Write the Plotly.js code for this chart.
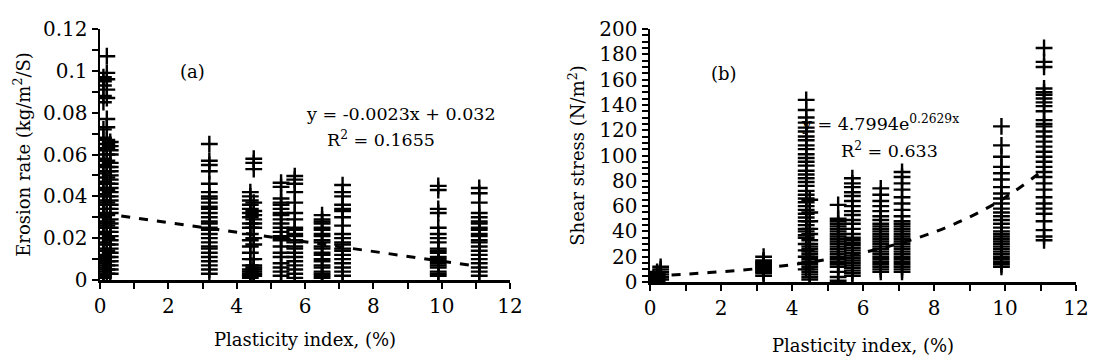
<!DOCTYPE html>
<html>
<head>
<meta charset="utf-8">
<script src="https://cdn.plot.ly/plotly-3.0.1.min.js"></script>
<style>html,body{margin:0;padding:0;background:#fff;}#chart{width:1096px;height:359px;}</style>
</head>
<body>
<div id="chart"></div>
<script>
// ---------- Panel (a): erosion rate vs plasticity index ----------
const erPI = [0.1, 0.2, 0.3, 3.2, 4.4, 4.5, 5.3, 5.7, 6.5, 7.1, 9.9, 11.1];
const er_01 = [0.097, 0.095, 0.093, 0.088, 0.085, 0.072, 0.068, 0.062, 0.058, 0.055, 0.051, 0.047, 0.044, 0.041, 0.038, 0.036, 0.032, 0.030, 0.027, 0.025, 0.022, 0.020, 0.018, 0.015, 0.012, 0.010, 0.008, 0.006, 0.004, 0.002, 0.001];
const er_02 = [0.107, 0.099, 0.096, 0.091, 0.087, 0.077, 0.073, 0.067, 0.065, 0.063, 0.060, 0.057, 0.054, 0.052, 0.049, 0.046, 0.043, 0.040, 0.037, 0.034, 0.031, 0.028, 0.026, 0.023, 0.020, 0.017, 0.014, 0.011, 0.009, 0.007, 0.005, 0.003];
const er_03 = [0.066, 0.064, 0.062, 0.060, 0.056, 0.054, 0.052, 0.050, 0.048, 0.046, 0.044, 0.042, 0.040, 0.038, 0.036, 0.034, 0.032, 0.029, 0.027, 0.025, 0.023, 0.021, 0.019, 0.017, 0.015, 0.013, 0.011, 0.009, 0.007, 0.005, 0.003];
const er_32 = [0.065, 0.057, 0.055, 0.052, 0.046, 0.042, 0.040, 0.039, 0.037, 0.035, 0.034, 0.032, 0.030, 0.028, 0.027, 0.025, 0.024, 0.022, 0.020, 0.018, 0.016, 0.015, 0.013, 0.011, 0.009, 0.007, 0.005, 0.003];
const er_44 = [0.042, 0.040, 0.038, 0.036, 0.034, 0.032, 0.030, 0.027, 0.025, 0.022, 0.019, 0.016, 0.013, 0.010, 0.007, 0.005, 0.004, 0.003, 0.002, 0.001];
const er_45 = [0.058, 0.056, 0.053, 0.037, 0.033, 0.031, 0.029, 0.027, 0.025, 0.020, 0.017, 0.010, 0.007, 0.006, 0.005, 0.004, 0.003, 0.002];
const er_53 = [0.0465, 0.0445, 0.039, 0.037, 0.036, 0.034, 0.032, 0.031, 0.029, 0.027, 0.025, 0.023, 0.021, 0.020, 0.019, 0.016, 0.013, 0.011, 0.008, 0.006, 0.004, 0.002];
const er_57 = [0.0497, 0.048, 0.046, 0.042, 0.037, 0.032, 0.029, 0.025, 0.024, 0.022, 0.021, 0.019, 0.018, 0.016, 0.015, 0.013, 0.011, 0.009, 0.007, 0.005, 0.003, 0.001];
const er_65 = [0.031, 0.029, 0.028, 0.027, 0.025, 0.024, 0.022, 0.021, 0.019, 0.018, 0.016, 0.015, 0.013, 0.012, 0.010, 0.009, 0.007, 0.006, 0.004, 0.003, 0.002, 0.001];
const er_71 = [0.0454, 0.042, 0.040, 0.036, 0.034, 0.033, 0.030, 0.026, 0.022, 0.020, 0.018, 0.017, 0.015, 0.014, 0.012, 0.010, 0.008, 0.006, 0.004, 0.002];
const er_99 = [0.045, 0.043, 0.034, 0.032, 0.025, 0.022, 0.020, 0.018, 0.015, 0.014, 0.013, 0.011, 0.010, 0.009, 0.008, 0.007, 0.006, 0.004, 0.003, 0.002];
const er_111 = [0.044, 0.0415, 0.037, 0.032, 0.030, 0.028, 0.027, 0.025, 0.024, 0.022, 0.021, 0.019, 0.018, 0.016, 0.014, 0.012, 0.010, 0.008, 0.006, 0.004, 0.002];
const trendA_x = [0.1, 11.1];
const trendA_y = [0.0318, 0.0065];

// ---------- Panel (b): shear stress vs plasticity index ----------
const ssPI = [0.1, 0.2, 0.3, 3.2, 4.4, 4.5, 5.3, 5.7, 6.5, 7.1, 9.9, 11.1];
const ss_01 = [0.5, 1, 2, 3];
const ss_02 = [1, 2, 3, 4, 5, 6, 7, 8];
const ss_03 = [2, 4, 6, 8, 10, 12];
const ss_32 = [20, 17, 16, 15, 14, 13, 12, 11, 10, 9, 8, 7, 5];
const ss_44 = [144, 136, 130, 126, 122, 119, 115, 112, 108, 105, 101, 98, 95, 92, 88, 85, 82, 79, 76, 72, 69, 66, 63, 60, 57, 54, 51, 48, 45, 42, 40, 37, 35, 30, 25, 20, 15, 10];
const ss_45 = [65, 55, 48, 42, 38, 33, 30, 28, 26, 24, 22, 20, 18, 16, 14, 12, 10, 8, 6, 4, 2];
const ss_53 = [61, 50, 48, 46, 44, 42, 40, 38, 36, 34, 32, 30, 28, 26, 24, 22, 20, 18, 16, 14, 12, 8, 4, 1];
const ss_57 = [82, 78, 75, 71, 68, 64, 60, 56, 53, 49, 46, 42, 38, 35, 33, 31, 29, 27, 25, 23, 21, 19, 17, 15, 13, 11, 9, 7, 5];
const ss_65 = [74, 69, 64, 60, 56, 52, 49, 46, 44, 42, 40, 38, 36, 34, 32, 30, 28, 26, 24, 22, 20, 18, 16, 14, 12, 10, 8];
const ss_71 = [87, 83, 78, 73, 67, 62, 57, 52, 48, 46, 44, 42, 40, 38, 36, 34, 32, 30, 28, 26, 24, 22, 20, 18, 16, 14, 12, 10, 8];
const ss_99 = [123, 108, 99, 91, 86, 81, 75, 70, 66, 62, 58, 55, 52, 49, 46, 43, 40, 38, 36, 34, 32, 30, 28, 26, 24, 22, 20, 18, 16, 14, 12];
const ss_111 = [185, 174, 170, 153, 150, 148, 145, 142, 139, 135, 128, 125, 123, 119, 115, 111, 107, 103, 99, 95, 91, 87, 83, 78, 73, 67, 62, 58, 54, 48, 41, 36, 33];
const trendB_x = [0.1, 1, 2, 3, 4, 5, 6, 7, 8, 9, 10, 11.1];
const trendB_y = [5.0, 6.2, 8.1, 10.5, 13.7, 17.9, 23.2, 30.3, 39.4, 51.3, 66.7, 88.8];

// ---------- Labels ----------
const xTitle = 'Plasticity index, (%)';
const yTitleA = 'Erosion rate (kg/m<sup>2</sup>/S)';
const yTitleB = 'Shear stress (N/m<sup>2</sup>)';
const eqA = ['y = -0.0023x + 0.032', 'R<sup>2</sup> = 0.1655'];
const eqB = ['y = 4.7994e<sup>0.2629x</sup>', 'R<sup>2</sup> = 0.633'];

function flatten(piList, cols) {
  const xs = [], ys = [];
  cols.forEach((c, i) => c.forEach(v => { xs.push(piList[i]); ys.push(v); }));
  return {xs, ys};
}
const A = flatten(erPI, [er_01, er_02, er_03, er_32, er_44, er_45, er_53, er_57, er_65, er_71, er_99, er_111]);
const B = flatten(ssPI, [ss_01, ss_02, ss_03, ss_32, ss_44, ss_45, ss_53, ss_57, ss_65, ss_71, ss_99, ss_111]);

const FONT = '"DejaVu Serif", "Liberation Serif", serif';
const marker = {symbol: 'cross-thin', size: 12, color: '#000', line: {color: '#000', width: 2.4}};

const traces = [
  {x: A.xs, y: A.ys, type: 'scatter', mode: 'markers', marker: marker, xaxis: 'x', yaxis: 'y', showlegend: false, hoverinfo: 'x+y'},
  {x: trendA_x, y: trendA_y, type: 'scatter', mode: 'lines', line: {color: '#000', width: 3, dash: 'dash'}, xaxis: 'x', yaxis: 'y', showlegend: false},
  {x: B.xs, y: B.ys, type: 'scatter', mode: 'markers', marker: marker, xaxis: 'x2', yaxis: 'y2', showlegend: false, hoverinfo: 'x+y'},
  {x: trendB_x, y: trendB_y, type: 'scatter', mode: 'lines', line: {color: '#000', width: 3, dash: 'dash', shape: 'spline'}, xaxis: 'x2', yaxis: 'y2', showlegend: false}
];

const W = 1096, H = 359;
const TICK = 20, TITLE = 18, EQ = 17.5;
const axisCommon = {
  showline: true, linecolor: '#000', linewidth: 2.5, mirror: false,
  showgrid: false, zeroline: false,
  ticks: 'outside', ticklen: 6, tickwidth: 2, tickcolor: '#000',
  tickfont: {family: FONT, size: TICK, color: '#000'}
};
const minorTicks = (d) => ({dtick: d, ticks: 'outside', ticklen: 6, tickwidth: 2, tickcolor: '#000'});

const layout = {
  width: W, height: H,
  margin: {l: 0, r: 0, t: 0, b: 0},
  paper_bgcolor: '#fff', plot_bgcolor: '#fff',
  font: {family: FONT, color: '#000'},
  showlegend: false,
  xaxis: Object.assign({}, axisCommon, {
    domain: [100 / W, 510 / W], range: [0, 12], dtick: 2, tick0: 0,
    minor: minorTicks(1), anchor: 'y',
    title: {text: xTitle, font: {family: FONT, size: TITLE, color: '#000'}, standoff: 17}
  }),
  yaxis: Object.assign({}, axisCommon, {
    domain: [1 - 280 / H, 1 - 29 / H], range: [0, 0.12], dtick: 0.02, tick0: 0,
    minor: minorTicks(0.01), anchor: 'x',
    title: {text: yTitleA, font: {family: FONT, size: TITLE, color: '#000'}, standoff: 8}
  }),
  xaxis2: Object.assign({}, axisCommon, {
    domain: [650 / W, 1076 / W], range: [0, 12], dtick: 2, tick0: 0,
    minor: minorTicks(1), anchor: 'y2',
    title: {text: xTitle, font: {family: FONT, size: TITLE, color: '#000'}, standoff: 21}
  }),
  yaxis2: Object.assign({}, axisCommon, {
    domain: [1 - 282 / H, 1 - 29 / H], range: [0, 200], dtick: 20, tick0: 0,
    minor: minorTicks(5), anchor: 'x2',
    title: {text: yTitleB, font: {family: FONT, size: TITLE, color: '#000'}, standoff: 10}
  }),
  annotations: [
    {xref: 'x', yref: 'y', x: 2.72, y: 0.0999, text: '(a)', showarrow: false, font: {family: FONT, size: TITLE, color: '#000'}},
    {xref: 'x', yref: 'y', x: 8.8, y: 0.0795, text: eqA[0], showarrow: false, font: {family: FONT, size: EQ, color: '#000'}},
    {xref: 'x', yref: 'y', x: 8.22, y: 0.0676, text: eqA[1], showarrow: false, font: {family: FONT, size: EQ, color: '#000'}},
    {xref: 'x2', yref: 'y2', x: 2.08, y: 165, text: '(b)', showarrow: false, font: {family: FONT, size: TITLE, color: '#000'}},
    {xref: 'x2', yref: 'y2', x: 6.47, y: 126, text: eqB[0], showarrow: false, font: {family: FONT, size: EQ, color: '#000'}},
    {xref: 'x2', yref: 'y2', x: 6.75, y: 104, text: eqB[1], showarrow: false, font: {family: FONT, size: EQ, color: '#000'}}
  ]
};

Plotly.newPlot('chart', traces, layout, {displayModeBar: false, staticPlot: true});
</script>
</body>
</html>
